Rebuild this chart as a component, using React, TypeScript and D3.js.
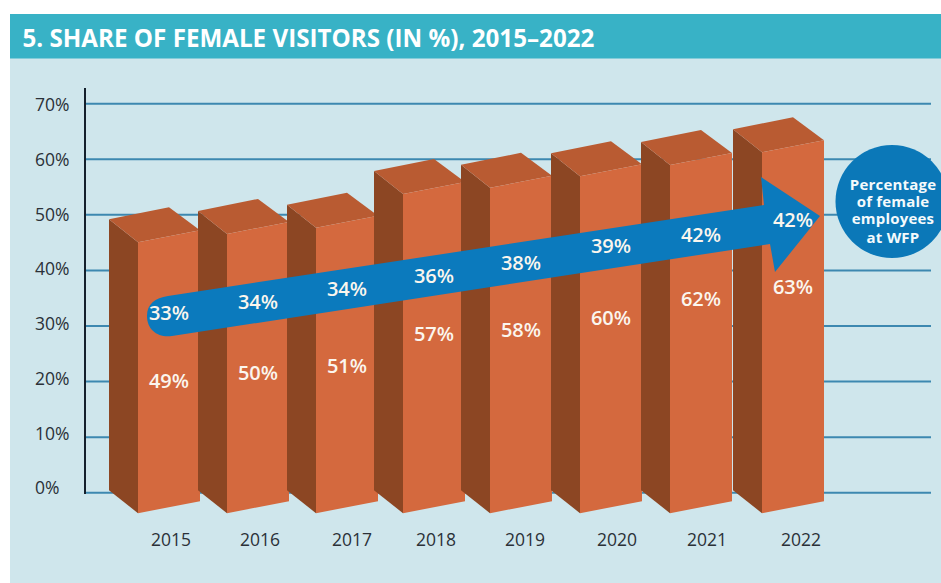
import React from "react";
import * as d3 from "d3";

// ---- data ----
const years = ["2015", "2016", "2017", "2018", "2019", "2020", "2021", "2022"];
const visitorLabels = [49, 50, 51, 57, 58, 60, 62, 63];
const employeeLabels = [33, 34, 34, 36, 38, 39, 42, 42];
const barHeights = [49.2, 50.7, 51.8, 57.9, 59, 61.1, 63.1, 65.4];
const ticks = [0, 10, 20, 30, 40, 50, 60, 70];
const title = "5. SHARE OF FEMALE VISITORS (IN %), 2015\u20132022";
const badgeLines = ["Percentage", "of female", "employees", "at WFP"];

// ---- layout ----
const W = 941, H = 583;
const barLeft = d3.scaleOrdinal<string, number>().domain(years).range([109, 198, 287, 374, 461, 551, 641, 733]);
const yearX = d3.scaleOrdinal<string, number>().domain(years).range([171, 260, 352, 436, 525, 617, 707, 801]);
const visitorY = d3.scaleOrdinal<string, number>().domain(years).range([381, 373, 366, 334, 330, 318, 299, 287]);
const employeeY = d3.scaleOrdinal<string, number>().domain(years).range([313, 302, 289, 276, 263, 246, 235, 220]);
const y = d3.scaleLinear().domain([0, 70]).range([492.7, 103.7]);
const tickY = d3.scaleLinear().domain([0, 70]).range([488, 105]);
const arrowTop = d3.scaleLinear().domain([168, 764]).range([296, 205]);
const arrowBottom = d3.scaleLinear().domain([172, 770]).range([336, 244]);

const SIDE = 29, DEPTH = 23, FRONT = 62, RISE = 12;
const FONT = "'Open Sans', sans-serif";

const poly = (pts: [number, number][]) => d3.line()(pts)! + "Z";

function arrowPath() {
  const p = d3.path();
  p.moveTo(168, arrowTop(168));
  p.lineTo(764, arrowTop(764));
  p.lineTo(761, 177);
  p.lineTo(820, 216);
  p.lineTo(775, 272);
  p.lineTo(770, arrowBottom(770));
  p.lineTo(172, arrowBottom(172));
  p.bezierCurveTo(158, 338, 147, 330, 147, 316);
  p.bezierCurveTo(147, 304, 155, 298, 168, arrowTop(168));
  p.closePath();
  return p.toString();
}

export default function App() {
  return (
    <svg width={W} height={H} viewBox={`0 0 ${W} ${H}`} style={{ position: "absolute", left: 0, top: 0, display: "block", background: "#fff" }}>
      <rect x={10} y={14} width={W - 10} height={H - 14} fill="#cfe6ec" />
      <rect x={10} y={14} width={W - 10} height={44.5} fill="#38b2c6" />
      <text x={22.5} y={46.5} fill="#fff" fontFamily={FONT} fontWeight={700} fontSize={24.2}>{title}</text>

      {ticks.map(t => (
        <g key={t}>
          <line x1={85} x2={931} y1={y(t)} y2={y(t)} stroke="#3d88b0" strokeWidth={2} />
          <text x={35} y={tickY(t)} dy="0.36em" fill="#2b3138" fontFamily={FONT} fontSize={17.5}>{t}%</text>
        </g>
      ))}
      <line x1={85} x2={85} y1={88} y2={494} stroke="#14202c" strokeWidth={2} />

      {years.map((yr, i) => {
        const l = barLeft(yr);
        const top = y(barHeights[i]);
        const base = y(0) - 2.5;
        const fl = l + SIDE, fr = fl + FRONT;
        return (
          <g key={yr}>
            <path d={poly([[l, top], [fl, top + DEPTH], [fl, base + DEPTH], [l, base]])} fill="#8c4623" />
            <path d={poly([[l, top], [l + 60, top - RISE], [fr, top + DEPTH - RISE], [fl, top + DEPTH]])} fill="#b95b32" />
            <path d={poly([[fl, top + DEPTH], [fr, top + DEPTH - RISE], [fr, base + DEPTH - RISE], [fl, base + DEPTH]])} fill="#d4693e" />
          </g>
        );
      })}

      <path d={arrowPath()} fill="#0b7abd" />

      {years.map((yr, i) => {
        const cx = barLeft(yr) + SIDE + FRONT / 2;
        return (
          <g key={yr} fontFamily={FONT} fontWeight={600} fontSize={20} fill="#fbf6ee" textAnchor="middle">
            <text x={cx} y={visitorY(yr)} dy="0.36em">{visitorLabels[i]}%</text>
            <text x={cx} y={employeeY(yr)} dy="0.36em">{employeeLabels[i]}%</text>
            <text x={yearX(yr)} y={540} dy="0.36em" fill="#2b3138" fontWeight={400} fontSize={17.5}>{yr}</text>
          </g>
        );
      })}

      <circle cx={892} cy={201.5} r={56.5} fill="#0b78b8" />
      {badgeLines.map((s, i) => (
        <text key={s} x={893} y={[185, 202, 219, 238][i]} dy="0.36em" textAnchor="middle" fill="#f4fafc"
          fontFamily={FONT} fontWeight={700} fontSize={15} letterSpacing={0.2}>{s}</text>
      ))}
    </svg>
  );
}
